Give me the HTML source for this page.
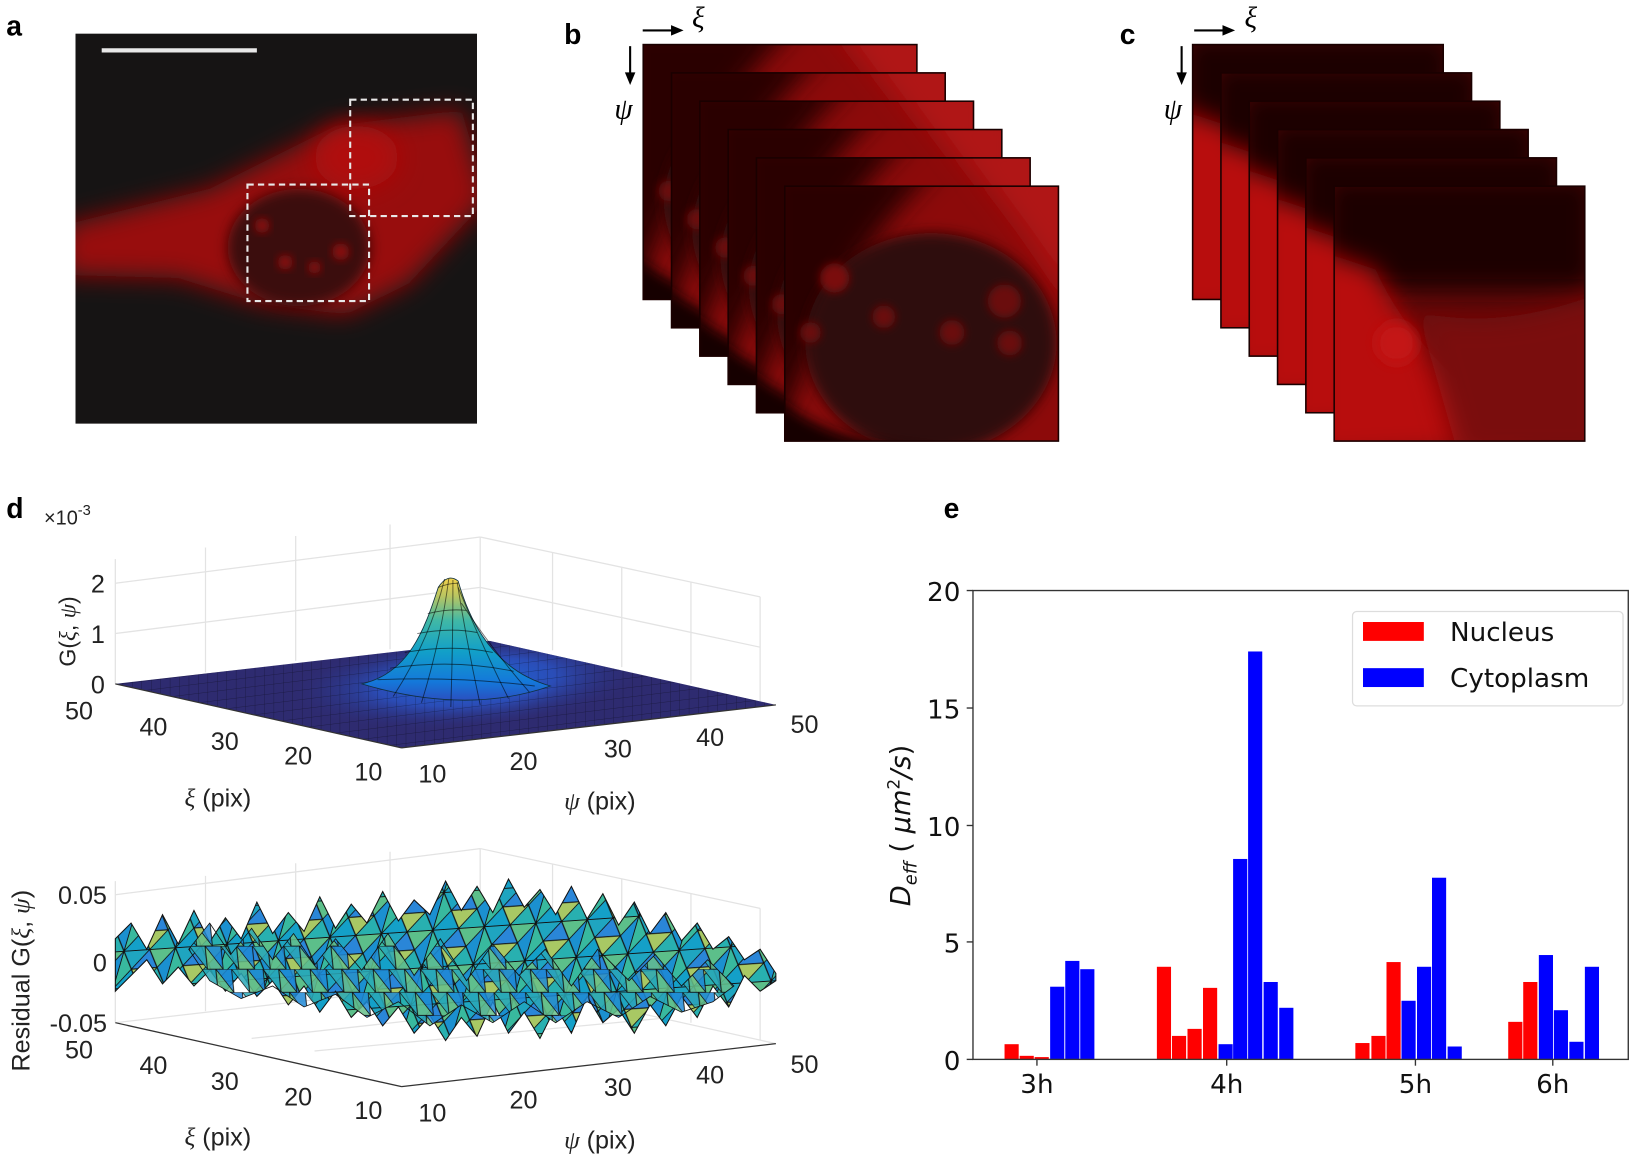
<!DOCTYPE html>
<html><head><meta charset="utf-8"><style>
html,body{margin:0;padding:0;background:#fff;}
svg{display:block;}
</style></head><body>
<svg width="1644" height="1158" viewBox="0 0 1568 1104" preserveAspectRatio="none" xmlns="http://www.w3.org/2000/svg">
<defs>
<filter id="b12" x="-30%" y="-30%" width="160%" height="160%"><feGaussianBlur stdDeviation="12"/></filter>
<filter id="b6" x="-30%" y="-30%" width="160%" height="160%"><feGaussianBlur stdDeviation="6"/></filter>
<filter id="b4" x="-30%" y="-30%" width="160%" height="160%"><feGaussianBlur stdDeviation="4"/></filter>
<clipPath id="cb"><rect x="0" y="0" width="262" height="244"/></clipPath>
<clipPath id="cc"><rect x="0" y="0" width="240" height="244"/></clipPath>
<clipPath id="ca"><rect x="72" y="32" width="383" height="372"/></clipPath>
<linearGradient id="pk" x1="0" y1="0" x2="0" y2="1">
 <stop offset="0" stop-color="#f2d24a"/><stop offset="0.15" stop-color="#b8c562"/><stop offset="0.35" stop-color="#40b8a6"/>
 <stop offset="0.6" stop-color="#12a0c8"/><stop offset="0.85" stop-color="#1478da"/><stop offset="1" stop-color="#2a50c0"/>
</linearGradient>
<radialGradient id="glow" cx="0.5" cy="0.5" r="0.5">
 <stop offset="0" stop-color="#1a6ee0"/><stop offset="0.5" stop-color="#2a55c8" stop-opacity="0.8"/><stop offset="1" stop-color="#2c2a72" stop-opacity="0"/>
</radialGradient>
<pattern id="mesh" width="9" height="9" patternUnits="userSpaceOnUse" patternTransform="skewY(-7)">
 <path d="M0,0 L9,0 M0,0 L0,9" stroke="#000" stroke-width="0.7" stroke-opacity="0.45" fill="none"/>
</pattern>
<pattern id="noise" width="48" height="36" patternUnits="userSpaceOnUse" patternTransform="skewX(-20) rotate(-4)">
 <g stroke="#111" stroke-width="0.9">
 <polygon points="0,0 24,0 12,18" fill="#1fa5c0"/>
 <polygon points="24,0 48,0 36,18" fill="#5cbf8a"/>
 <polygon points="12,18 36,18 24,0" fill="#2a86d8"/>
 <polygon points="0,0 12,18 0,36" fill="#38b99e"/>
 <polygon points="48,0 36,18 48,36" fill="#1b90d0"/>
 <polygon points="12,18 36,18 24,36" fill="#a8c864"/>
 <polygon points="0,36 12,18 24,36" fill="#14a0c8"/>
 <polygon points="24,36 36,18 48,36" fill="#28b0b0"/>
 </g>
</pattern>
<pattern id="noise2" width="30" height="22" patternUnits="userSpaceOnUse" patternTransform="skewX(25)">
 <g stroke="#111" stroke-width="0.8" fill-opacity="0.85">
 <polygon points="0,0 15,0 7,22" fill="#2aa8b8"/>
 <polygon points="15,0 30,0 22,22" fill="#1e88d6"/>
 <polygon points="7,22 15,0 22,22" fill="#66c08a"/>
 </g>
</pattern>
<g id="fb">
 <g clip-path="url(#cb)">
  <rect width="262" height="244" fill="#8c0a0a"/>
  <path d="M-20,-20 L150,-20 Q60,60 10,200 L-20,260 Z" fill="#2a0606" filter="url(#b12)"/>
  <ellipse cx="140" cy="150" rx="120" ry="105" fill="#2e0707" filter="url(#b6)"/>
  <path d="M180,-20 L280,-20 L280,120 Q230,40 180,-20Z" fill="#b01212" filter="url(#b12)"/>
  <circle cx="48" cy="88" r="14" fill="#7a0a0a" filter="url(#b4)"/>
  <circle cx="95" cy="125" r="11" fill="#6a0808" filter="url(#b4)"/>
  <circle cx="160" cy="140" r="12" fill="#6a0808" filter="url(#b4)"/>
  <circle cx="210" cy="110" r="16" fill="#6a0808" filter="url(#b4)"/>
  <circle cx="215" cy="150" r="12" fill="#6a0808" filter="url(#b4)"/>
  <circle cx="25" cy="140" r="10" fill="#6a0808" filter="url(#b4)"/>
  <path d="M-10,200 Q60,260 200,250 L-10,260Z" fill="#160303" filter="url(#b6)"/>
 </g>
 <rect x="0.5" y="0.5" width="261" height="243" fill="none" stroke="#1a0000" stroke-width="1.5"/>
</g>
<g id="fc">
 <g clip-path="url(#cc)">
  <rect width="240" height="244" fill="#600808"/>
  <rect x="-10" y="-10" width="260" height="110" fill="#1a0505" filter="url(#b12)"/>
  <path d="M-20,60 L40,80 Q80,170 200,250 L-20,260Z" fill="#b80e0e" filter="url(#b12)"/>
  <path d="M80,120 Q160,140 260,100 L260,260 L120,260Z" fill="#7a0a0a" filter="url(#b12)"/>
  <circle cx="60" cy="150" r="20" fill="#c41212" filter="url(#b6)"/>
 </g>
 <rect x="0.5" y="0.5" width="239" height="243" fill="none" stroke="#1a0000" stroke-width="1.5"/>
</g>
<clipPath id="floorclip"><polygon points="110,652 383,713 740,672 467,611"/></clipPath>
</defs>

<g font-family="Liberation Sans, sans-serif" font-weight="bold" font-size="27" fill="#000">
<text x="6" y="34">a</text><text x="538" y="42">b</text><text x="1068" y="42">c</text>
<text x="6" y="494">d</text><text x="900" y="494">e</text>
</g>

<g clip-path="url(#ca)">
<rect x="72" y="32" width="383" height="372" fill="#161414"/>
<path d="M60,215 L200,180 L320,120 L440,105 L465,190 L390,270 L330,300 L250,290 L170,265 L60,262 Z" fill="#980c0c" filter="url(#b12)"/>
<ellipse cx="340" cy="150" rx="40" ry="30" fill="#b01010" filter="url(#b12)"/>
<ellipse cx="285" cy="236" rx="68" ry="56" fill="#3a0808" filter="url(#b6)"/>
<circle cx="250" cy="215" r="7" fill="#8a0c0c" filter="url(#b4)"/>
<circle cx="272" cy="250" r="7" fill="#8a0c0c" filter="url(#b4)"/>
<circle cx="300" cy="255" r="6" fill="#8a0c0c" filter="url(#b4)"/>
<circle cx="325" cy="240" r="8" fill="#8a0c0c" filter="url(#b4)"/>
</g>
<line x1="97" y1="48" x2="245" y2="48" stroke="#e8e8e8" stroke-width="4"/>
<rect x="236" y="176" width="116" height="111" fill="none" stroke="#e8e8e8" stroke-width="2" stroke-dasharray="6,4"/>
<rect x="334" y="95" width="117" height="111" fill="none" stroke="#e8e8e8" stroke-width="2" stroke-dasharray="6,4"/>

<use href="#fb" transform="translate(613,42)"/>
<use href="#fb" transform="translate(640,69)"/>
<use href="#fb" transform="translate(667,96)"/>
<use href="#fb" transform="translate(694,123)"/>
<use href="#fb" transform="translate(721,150)"/>
<use href="#fb" transform="translate(748,177)"/>
<use href="#fc" transform="translate(1137,42)"/>
<use href="#fc" transform="translate(1164,69)"/>
<use href="#fc" transform="translate(1191,96)"/>
<use href="#fc" transform="translate(1218,123)"/>
<use href="#fc" transform="translate(1245,150)"/>
<use href="#fc" transform="translate(1272,177)"/>

<g stroke="#000" stroke-width="2" fill="#000">
<line x1="613" y1="29" x2="643" y2="29"/><path d="M652,29 L640,24 L640,34Z" stroke="none"/>
<line x1="601" y1="44" x2="601" y2="72"/><path d="M601,81 L596,69 L606,69Z" stroke="none"/>
<line x1="1139" y1="29" x2="1169" y2="29"/><path d="M1178,29 L1166,24 L1166,34Z" stroke="none"/>
<line x1="1127" y1="44" x2="1127" y2="72"/><path d="M1127,81 L1122,69 L1132,69Z" stroke="none"/>
</g>
<g font-family="Liberation Serif, serif" font-style="italic" font-size="28" fill="#000">
<text x="660" y="26">ξ</text><text x="586" y="113">ψ</text>
<text x="1187" y="26">ξ</text><text x="1110" y="113">ψ</text>
</g>

<g stroke="#e3e3e3" stroke-width="1.2" fill="none">
<line x1="110" y1="652" x2="110" y2="533"/>
<line x1="110" y1="604" x2="458" y2="560"/><line x1="110" y1="556" x2="458" y2="512"/>
<line x1="458" y1="512" x2="458" y2="611"/>
<line x1="196" y1="641" x2="196" y2="522"/><line x1="282" y1="630" x2="282" y2="511"/><line x1="372" y1="619" x2="372" y2="500"/>
<line x1="458" y1="512" x2="725" y2="569"/><line x1="458" y1="560" x2="725" y2="617"/>
<line x1="725" y1="569" x2="725" y2="669"/>
<line x1="527" y1="527" x2="527" y2="620"/><line x1="593" y1="541" x2="593" y2="636"/><line x1="659" y1="555" x2="659" y2="652"/>
</g>
<polygon points="110,652 383,713 740,672 467,611" fill="#2e2b70"/>
<g clip-path="url(#floorclip)">
<ellipse cx="445" cy="650" rx="170" ry="45" transform="rotate(-4 445 650)" fill="url(#glow)"/>
<rect x="100" y="600" width="650" height="120" fill="url(#mesh)"/>
</g>
<path d="M345,652 C390,642 405,600 418,560 Q427,546 437,554 C450,600 475,640 525,654 Q445,682 345,652 Z" fill="url(#pk)" stroke="#103040" stroke-width="0.8"/>
<g stroke="#000" stroke-opacity="0.55" stroke-width="0.9" fill="none">
<path d="M418,560 Q428,556 437,556"/>
<path d="M408,585 Q428,580 445,582"/>
<path d="M398,604 Q430,598 455,603"/>
<path d="M386,622 Q432,614 470,622"/>
<path d="M372,637 Q434,628 490,640"/>
<path d="M360,648 Q440,645 510,654"/>
<path d="M424,552 Q410,610 375,664"/><path d="M428,552 Q420,612 402,670"/>
<path d="M432,553 Q432,612 430,674"/><path d="M436,555 Q445,612 458,672"/>
<path d="M437,560 Q458,612 485,666"/><path d="M440,575 Q470,620 505,660"/>
</g>
<g stroke="#333" stroke-width="1.2" fill="none">
<line x1="110" y1="652" x2="383" y2="713"/><line x1="383" y1="713" x2="740" y2="672"/>
</g>

<g stroke="#e3e3e3" stroke-width="1.2" fill="none">
<line x1="110" y1="975" x2="110" y2="840"/>
<line x1="110" y1="917" x2="458" y2="873"/><line x1="110" y1="853" x2="458" y2="809"/>
<line x1="458" y1="809" x2="458" y2="934"/>
<line x1="196" y1="964" x2="196" y2="835"/><line x1="282" y1="953" x2="282" y2="823"/><line x1="372" y1="942" x2="372" y2="812"/>
<line x1="458" y1="809" x2="725" y2="866"/><line x1="458" y1="873" x2="725" y2="930"/>
<line x1="725" y1="866" x2="725" y2="992"/>
<line x1="527" y1="824" x2="527" y2="943"/><line x1="593" y1="838" x2="593" y2="959"/><line x1="659" y1="852" x2="659" y2="975"/>
<line x1="110" y1="975" x2="467" y2="934"/><line x1="467" y1="934" x2="740" y2="995"/>
<line x1="240" y1="990" x2="600" y2="950"/><line x1="300" y1="1002" x2="640" y2="970"/>
</g>
<g>
<polygon fill="url(#noise)" stroke="#111" stroke-width="1" points="110,895 125,880 140,905 155,872 170,900 185,868 200,898 215,875 230,895 245,860 260,890 275,870 290,888 305,855 320,885 335,862 350,880 365,850 380,878 395,858 410,872 425,840 440,868 455,845 470,870 485,838 500,865 515,848 530,872 545,845 560,876 575,852 590,882 605,860 620,890 635,870 650,897 665,880 680,905 695,893 710,915 725,905 740,928 740,935 725,945 710,930 695,960 680,940 665,970 650,950 635,978 620,958 605,985 590,962 575,975 560,950 545,985 530,960 515,990 500,965 485,985 470,955 455,988 440,970 425,992 410,968 395,985 380,960 365,978 350,955 335,970 320,945 305,965 290,940 275,958 260,935 245,950 230,928 215,945 200,925 185,940 170,922 155,938 140,915 125,930 110,945"/>
<polygon fill="url(#noise2)" stroke="#111" stroke-width="0.8" points="180,905 200,880 220,910 240,885 260,915 280,890 300,920 320,895 345,925 370,890 395,930 420,895 445,935 470,900 495,930 520,905 545,940 570,905 600,935 625,910 650,940 675,915 700,940 680,955 650,965 620,950 590,970 560,955 530,975 500,955 470,975 440,958 410,978 380,955 350,970 320,948 290,960 260,940 230,952 200,935"/>
</g>
<g stroke="#333" stroke-width="1.2" fill="none">
<line x1="110" y1="975" x2="383" y2="1036"/><line x1="383" y1="1036" x2="740" y2="995"/>
</g>

<g font-family="Liberation Sans, sans-serif" font-size="24" fill="#222">
<text x="42" y="500" font-size="19">×10<tspan dy="-9" font-size="14">-3</tspan></text>
<text x="100" y="661" text-anchor="end">0</text><text x="100" y="613" text-anchor="end">1</text><text x="100" y="565" text-anchor="end">2</text>
<text x="62" y="686">50</text><text x="133" y="701">40</text><text x="201" y="715">30</text><text x="271" y="729">20</text><text x="338" y="744">10</text>
<text x="399" y="746">10</text><text x="486" y="734">20</text><text x="576" y="722">30</text><text x="664" y="711">40</text><text x="754" y="699">50</text>
<text x="176" y="769"><tspan font-family="Liberation Serif, serif" font-style="italic">ξ</tspan> (pix)</text>
<text x="538" y="772"><tspan font-family="Liberation Serif, serif" font-style="italic">ψ</tspan> (pix)</text>
<text transform="translate(72,602) rotate(-90)" text-anchor="middle" font-size="22">G(<tspan font-family="Liberation Serif, serif" font-style="italic">ξ</tspan>, <tspan font-family="Liberation Serif, serif" font-style="italic">ψ</tspan>)</text>

<text x="102" y="862" text-anchor="end">0.05</text><text x="102" y="926" text-anchor="end">0</text><text x="102" y="984" text-anchor="end">-0.05</text>
<text x="62" y="1009">50</text><text x="133" y="1024">40</text><text x="201" y="1039">30</text><text x="271" y="1054">20</text><text x="338" y="1067">10</text>
<text x="399" y="1069">10</text><text x="486" y="1057">20</text><text x="576" y="1045">30</text><text x="664" y="1033">40</text><text x="754" y="1023">50</text>
<text x="176" y="1092"><tspan font-family="Liberation Serif, serif" font-style="italic">ξ</tspan> (pix)</text>
<text x="538" y="1095"><tspan font-family="Liberation Serif, serif" font-style="italic">ψ</tspan> (pix)</text>
<text transform="translate(28,935) rotate(-90)" text-anchor="middle">Residual G(<tspan font-family="Liberation Serif, serif" font-style="italic">ξ</tspan>, <tspan font-family="Liberation Serif, serif" font-style="italic">ψ</tspan>)</text>
</g>

<g fill="#f00">
<rect x="958.1" y="995.5" width="13.5" height="14.5"/>
<rect x="972.5" y="1006.6" width="13.5" height="3.4"/>
<rect x="986.8" y="1007.8" width="13.5" height="2.2"/>
<rect x="1103.4" y="921.7" width="13.5" height="88.3"/>
<rect x="1117.8" y="987.6" width="13.5" height="22.4"/>
<rect x="1132.6" y="980.9" width="13.5" height="29.1"/>
<rect x="1147.4" y="941.8" width="13.5" height="68.2"/>
<rect x="1292.7" y="994.4" width="13.5" height="15.6"/>
<rect x="1308" y="987.6" width="13.5" height="22.4"/>
<rect x="1322.4" y="917.2" width="13.5" height="92.8"/>
<rect x="1438.5" y="974.2" width="13.5" height="35.8"/>
<rect x="1452.8" y="936.2" width="13.5" height="73.8"/>
</g>
<g fill="#00f">
<rect x="1001.6" y="940.7" width="13.5" height="69.3"/>
<rect x="1016" y="916.1" width="13.5" height="93.9"/>
<rect x="1030.3" y="924" width="13.5" height="86"/>
<rect x="1162.2" y="995.5" width="13.5" height="14.5"/>
<rect x="1176.1" y="818.9" width="13.5" height="191.1"/>
<rect x="1190.4" y="621.1" width="13.5" height="388.9"/>
<rect x="1205.2" y="936.2" width="13.5" height="73.8"/>
<rect x="1220.1" y="960.8" width="13.5" height="49.2"/>
<rect x="1336.7" y="954.1" width="13.5" height="55.9"/>
<rect x="1351.5" y="921.7" width="13.5" height="88.3"/>
<rect x="1365.8" y="836.8" width="13.5" height="173.2"/>
<rect x="1380.7" y="997.7" width="13.5" height="12.3"/>
<rect x="1467.7" y="910.5" width="13.5" height="99.5"/>
<rect x="1482" y="963.1" width="13.5" height="46.9"/>
<rect x="1496.8" y="993.2" width="13.5" height="16.8"/>
<rect x="1511.6" y="921.7" width="13.5" height="88.3"/>
</g>
<rect x="928" y="563" width="625" height="447" fill="none" stroke="#333" stroke-width="1.3"/>
<g stroke="#333" stroke-width="1.3">
<line x1="922" y1="563" x2="928" y2="563"/><line x1="922" y1="675" x2="928" y2="675"/><line x1="922" y1="787" x2="928" y2="787"/><line x1="922" y1="898" x2="928" y2="898"/><line x1="922" y1="1010" x2="928" y2="1010"/>
<line x1="989" y1="1010" x2="989" y2="1016"/><line x1="1170" y1="1010" x2="1170" y2="1016"/><line x1="1350" y1="1010" x2="1350" y2="1016"/><line x1="1481" y1="1010" x2="1481" y2="1016"/>
</g>
<g font-family="DejaVu Sans, sans-serif" font-size="25" fill="#111">
<text x="916" y="573" text-anchor="end">20</text><text x="916" y="685" text-anchor="end">15</text><text x="916" y="797" text-anchor="end">10</text><text x="916" y="908" text-anchor="end">5</text><text x="916" y="1020" text-anchor="end">0</text>
<text x="989" y="1042" text-anchor="middle">3h</text><text x="1170" y="1042" text-anchor="middle">4h</text><text x="1350" y="1042" text-anchor="middle">5h</text><text x="1481" y="1042" text-anchor="middle">6h</text>
<text transform="translate(868,787) rotate(-90)" text-anchor="middle" font-size="26"><tspan font-style="italic">D</tspan><tspan font-style="italic" font-size="17" dy="6">eff</tspan><tspan dy="-6"> ( </tspan><tspan font-style="italic">μm</tspan><tspan font-size="16" dy="-10">2</tspan><tspan dy="10" font-style="italic">/s</tspan>)</text>
</g>
<rect x="1290" y="583" width="258" height="90" rx="4" fill="#fff" stroke="#ddd" stroke-width="1.2"/>
<rect x="1300" y="593" width="58" height="18" fill="#f00"/>
<rect x="1300" y="637" width="58" height="18" fill="#00f"/>
<g font-family="DejaVu Sans, sans-serif" font-size="25" fill="#111">
<text x="1383" y="611">Nucleus</text><text x="1383" y="655">Cytoplasm</text>
</g>
</svg>
</body></html>
